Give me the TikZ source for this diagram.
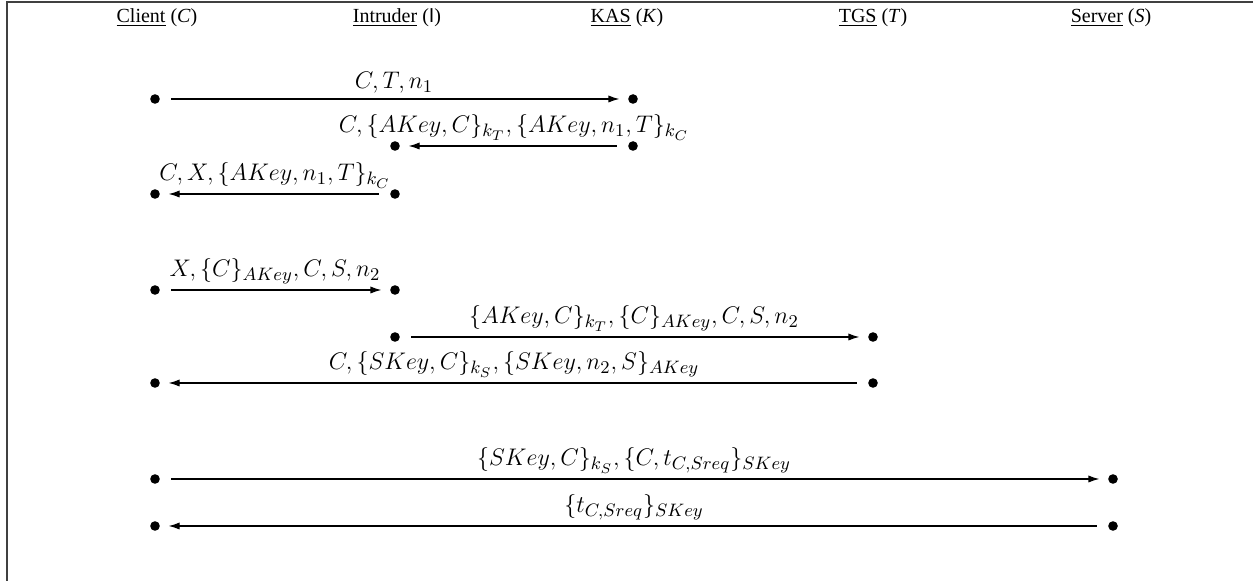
\documentclass[tikz,border=0pt]{standalone}
\usepackage[no-math]{fontspec}
\setmainfont{Liberation Serif}
\usetikzlibrary{arrows.meta}
\DeclareMathSizes{11.5}{11.5}{9}{7}

\begin{document}
\begin{tikzpicture}[x=0.5pt,y=-0.5pt,
    dot/.style={circle,fill=black,inner sep=0pt,minimum size=4.8pt},
    msg/.style={-{Latex[length=5.5pt,width=3.6pt]},line width=0.6pt,shorten <=5.5pt,shorten >=4.2pt},
    lbl/.style={above,inner sep=2.6pt,font=\fontsize{11.5pt}{14pt}\selectfont}]
	\useasboundingbox (0,0) rectangle (1253,581);
	\draw[line width=0.9pt,black!75] (7,581) -- (7,2) -- (1253,2);
	% participants
	\node (hc) at (157,18) {\underline{Client} (\textit{C})};
	\node (hi) at (397,18) {\underline{Intruder} (\textsf{I})};
	\node (hk) at (627,18) {\underline{KAS} (\textit{K})};
	\node (ht) at (873,18) {\underline{TGS} (\textit{T})};
	\node (hs) at (1111,18) {\underline{Server} (\textit{S})};
	% dots
	\begin{scope}[every node/.style={dot}]
		\node (c1) at (155,99) {};
		\node (k1) at (633,99) {};
		\node (k2) at (633,146) {};
		\node (i2) at (395,146) {};
		\node (i3) at (395,194) {};
		\node (c3) at (155,194) {};
		\node (c4) at (155,290) {};
		\node (i4) at (395,290) {};
		\node (i5) at (395,337) {};
		\node (t5) at (873,337) {};
		\node (t6) at (873,383) {};
		\node (c6) at (155,383) {};
		\node (c7) at (155,479) {};
		\node (s7) at (1113,479) {};
		\node (s8) at (1113,526) {};
		\node (c8) at (155,526) {};
	\end{scope}
	% messages
	\draw[msg] (c1) -- node[lbl] {$C, T, n_1$} (k1);
	\draw[msg] (k2) -- node[lbl] {$C, \{AKey, C\}_{k_T}, \{AKey, n_1, T\}_{k_C}$} (i2);
	\draw[msg] (i3) -- node[lbl] {$C, X, \{AKey, n_1, T\}_{k_C}$} (c3);
	\draw[msg] (c4) -- node[lbl] {$X, \{C\}_{AKey}, C, S, n_2$} (i4);
	\draw[msg] (i5) -- node[lbl] {$\{AKey, C\}_{k_T}, \{C\}_{AKey}, C, S, n_2$} (t5);
	\draw[msg] (t6) -- node[lbl] {$C, \{SKey, C\}_{k_S}, \{SKey, n_2, S\}_{AKey}$} (c6);
	\draw[msg] (c7) -- node[lbl] {$\{SKey, C\}_{k_S}, \{C, t_{C,Sreq}\}_{SKey}$} (s7);
	\draw[msg] (s8) -- node[lbl] {$\{t_{C,Sreq}\}_{SKey}$} (c8);
\end{tikzpicture}
\end{document}
